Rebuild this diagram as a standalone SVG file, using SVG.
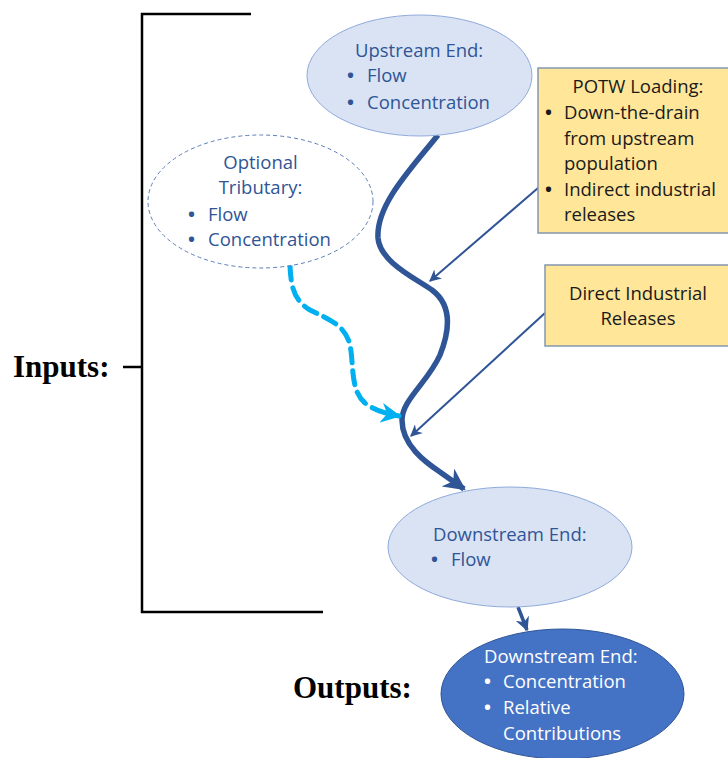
<svg xmlns="http://www.w3.org/2000/svg" width="728" height="758" viewBox="0 0 728 758">
  <style>
    .lbl { font-family: "Open Sans", "Noto Sans", sans-serif; font-size: 18.5px; }
    .bul { font-weight: bold; }
    .blue { fill: #2F5597; }
    .white { fill: #FFFFFF; }
    .dark { fill: #1A1A1A; }
    .big { font-family: "Liberation Serif", serif; font-size: 31px; font-weight: bold; fill: #000000; }
    .ell { fill: #DAE3F3; stroke: #8FAADC; stroke-width: 1; }
    .box { fill: #FFE699; stroke: #8497B0; stroke-width: 1.5; }
  </style>
  <defs>
    <marker id="headDark" viewBox="0 0 10 10" refX="9" refY="5" markerWidth="4" markerHeight="4" markerUnits="strokeWidth" orient="auto">
      <path d="M0,0 L10,5 L0,10 L3,5 z" fill="#2F5597"/>
    </marker>
    <marker id="headThin" viewBox="0 0 10 10" refX="9" refY="5" markerWidth="6" markerHeight="6" markerUnits="strokeWidth" orient="auto">
      <path d="M0,0 L10,5 L0,10 L3,5 z" fill="#2F5597"/>
    </marker>
    <marker id="headLight" viewBox="0 0 10 10" refX="9" refY="5" markerWidth="4" markerHeight="4" markerUnits="strokeWidth" orient="auto">
      <path d="M0,0 L10,5 L0,10 L3,5 z" fill="#00B0F0"/>
    </marker>
  </defs>

  <!-- inputs bracket -->
  <g id="inputs-bracket" fill="none" stroke="#000000" stroke-width="2.5">
    <path d="M251,14 H142 V612 H323"/>
    <path d="M123,367 H142"/>
  </g>
  <text class="big" x="13" y="377">Inputs:</text>
  <text class="big" x="293" y="698">Outputs:</text>

  <!-- connectors -->
  <g id="connectors" fill="none">
    <path d="M438,135 C410,170 376,205 378,238 C380,262 415,278 432,290 C452,305 450,330 440,355 C428,382 402,400 402,420 C402,445 425,462 440,472 L464,489" stroke="#2F5597" stroke-width="5.5" marker-end="url(#headDark)"/>
    <path d="M538,188 L430,281" stroke="#2F5597" stroke-width="2" marker-end="url(#headThin)"/>
    <path d="M545,313 L411,436" stroke="#2F5597" stroke-width="2" marker-end="url(#headThin)"/>
    <path d="M290,266 C291,285 293,300 310,310 C330,320 345,325 350,345 C354,365 350,390 365,403 C375,411 388,414 399,416" stroke="#00B0F0" stroke-width="5" stroke-dasharray="14,8" stroke-linecap="round" marker-end="url(#headLight)"/>
    <path d="M518,607 L527,630" stroke="#2F5597" stroke-width="3.5" marker-end="url(#headDark)"/>
  </g>

  <!-- upstream end -->
  <g id="upstream">
    <ellipse class="ell" cx="419.5" cy="75.5" rx="112.5" ry="60.5"/>
    <text class="lbl blue" x="355" y="57">Upstream End:</text>
    <text class="lbl blue" y="82"><tspan class="bul" x="347">•</tspan><tspan x="367">Flow</tspan></text>
    <text class="lbl blue" y="109"><tspan class="bul" x="347">•</tspan><tspan x="367">Concentration</tspan></text>
  </g>

  <!-- optional tributary -->
  <g id="tributary">
    <ellipse cx="260.5" cy="201.5" rx="112.5" ry="66.5" fill="#FFFFFF" stroke="#5B7DB8" stroke-width="1" stroke-dasharray="4,3"/>
    <text class="lbl blue" x="260.5" y="169" text-anchor="middle">Optional</text>
    <text class="lbl blue" x="260.5" y="194" text-anchor="middle">Tributary:</text>
    <text class="lbl blue" y="221"><tspan class="bul" x="188">•</tspan><tspan x="208">Flow</tspan></text>
    <text class="lbl blue" y="246"><tspan class="bul" x="188">•</tspan><tspan x="208">Concentration</tspan></text>
  </g>

  <!-- POTW loading -->
  <g id="potw">
    <rect class="box" x="538" y="68" width="200" height="165"/>
    <text class="lbl dark" x="638" y="93" text-anchor="middle">POTW Loading:</text>
    <text class="lbl dark" y="119"><tspan class="bul" x="545">•</tspan><tspan x="564">Down-the-drain</tspan></text>
    <text class="lbl dark" x="564" y="145">from upstream</text>
    <text class="lbl dark" x="564" y="170">population</text>
    <text class="lbl dark" y="196"><tspan class="bul" x="545">•</tspan><tspan x="564">Indirect industrial</tspan></text>
    <text class="lbl dark" x="564" y="221">releases</text>
  </g>

  <!-- direct industrial releases -->
  <g id="direct">
    <rect class="box" x="545" y="265" width="200" height="81"/>
    <text class="lbl dark" x="638" y="300" text-anchor="middle">Direct Industrial</text>
    <text class="lbl dark" x="638" y="325" text-anchor="middle">Releases</text>
  </g>

  <!-- downstream end (input) -->
  <g id="downstream-in">
    <ellipse class="ell" cx="510" cy="547" rx="122" ry="60"/>
    <text class="lbl blue" x="433" y="541">Downstream End:</text>
    <text class="lbl blue" y="566"><tspan class="bul" x="431">•</tspan><tspan x="451">Flow</tspan></text>
  </g>

  <!-- downstream end (output) -->
  <g id="downstream-out">
    <ellipse cx="562.5" cy="694" rx="121.5" ry="65" fill="#4472C4" stroke="#2F5597" stroke-width="1"/>
    <text class="lbl white" x="484" y="663">Downstream End:</text>
    <text class="lbl white" y="688"><tspan class="bul" x="484">•</tspan><tspan x="503">Concentration</tspan></text>
    <text class="lbl white" y="714"><tspan class="bul" x="484">•</tspan><tspan x="503">Relative</tspan></text>
    <text class="lbl white" x="503" y="740">Contributions</text>
  </g>
</svg>
